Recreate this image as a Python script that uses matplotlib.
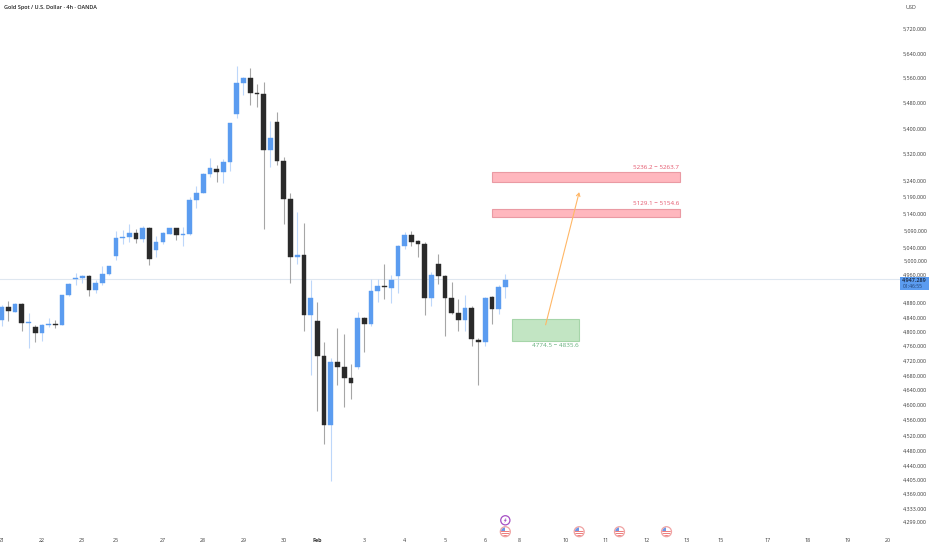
#!/usr/bin/env python3
"""Gold Spot / U.S. Dollar 4h candles with supply and demand zones."""

import matplotlib
matplotlib.use("Agg")
import matplotlib.pyplot as plt
from matplotlib.patches import Circle, FancyArrowPatch, Polygon, Rectangle
from matplotlib.ticker import NullLocator

plt.rcParams['font.family'] = ['Open Sans', 'DejaVu Sans']

# candle values, one entry per 4h bar
opens = [4833, 4869, 4856, 4878, 4824, 4813, 4795, 4818, 4821, 4819,
         4902, 4950, 4951, 4958, 4916, 4937, 4963, 5014, 5069, 5071,
         5083, 5065, 5098, 5033, 5056, 5080, 5097, 5075, 5080, 5179,
         5203, 5260, 5275, 5264, 5296, 5445, 5543, 5561, 5512, 5509,
         5333, 5419, 5299, 5183, 5011, 5018, 4847, 4831, 4734, 4546,
         4717, 4703, 4672, 4702, 4839, 4822, 4914, 4930, 4924, 4958,
         5045, 5077, 5058, 5051, 4895, 4992, 4957, 4895, 4853, 4832,
         4867, 4776, 4772, 4896, 4864, 4926]
highs = [4876, 4885, 4879, 4879, 4852, 4819, 4820, 4838, 4833, 4904,
         4938, 4965, 4960, 4959, 4946, 4987, 4987, 5087, 5091, 5109,
         5094, 5104, 5101, 5074, 5084, 5098, 5098, 5101, 5189, 5223,
         5261, 5309, 5287, 5306, 5418, 5600, 5562, 5593, 5541, 5547,
         5424, 5450, 5310, 5203, 5144, 5111, 4946, 4882, 4772, 4727,
         4810, 4794, 4712, 4855, 4840, 4948, 4948, 4992, 4960, 5046,
         5086, 5089, 5062, 5055, 4968, 5021, 4959, 4940, 4892, 4904,
         4873, 4783, 4896, 4901, 4932, 4963]
lows = [4817, 4831, 4855, 4801, 4755, 4770, 4773, 4813, 4810, 4818,
        4901, 4931, 4937, 4899, 4910, 4932, 4961, 5002, 5050, 5057,
        5052, 5057, 4990, 5012, 5050, 5079, 5062, 5045, 5077, 5156,
        5201, 5251, 5236, 5233, 5267, 5432, 5504, 5474, 5468, 5095,
        5282, 5287, 5109, 4938, 4992, 4801, 4680, 4585, 4497, 4403,
        4655, 4595, 4617, 4696, 4743, 4815, 4882, 4892, 4879, 4908,
        5035, 5043, 5012, 4847, 4873, 4935, 4787, 4850, 4801, 4801,
        4759, 4655, 4759, 4822, 4850, 4894]
closes = [4869, 4858, 4878, 4824, 4828, 4795, 4819, 4822, 4819, 4903,
          4934, 4952, 4958, 4916, 4937, 4963, 4986, 5069, 5072, 5083,
          5065, 5098, 5006, 5057, 5082, 5097, 5075, 5080, 5179, 5203,
          5260, 5276, 5264, 5296, 5417, 5544, 5561, 5512, 5509, 5334,
          5369, 5299, 5183, 5011, 5018, 4847, 4895, 4734, 4546, 4717,
          4703, 4672, 4658, 4838, 4822, 4914, 4930, 4925, 4945, 5045,
          5076, 5056, 5051, 4895, 4960, 4957, 4895, 4853, 4832, 4867,
          4779, 4772, 4895, 4864, 4926, 4947]

last_price = 4947.289

# axis ticks (the 4,920 label sits hidden behind the price tag)
price_ticks = [5720, 5640, 5560, 5480, 5400, 5320, 5240, 5190, 5140, 5090,
               5040, 5000, 4960, 4880, 4840, 4800, 4760, 4720, 4680,
               4640, 4600, 4560, 4520, 4480, 4440, 4405, 4369, 4333, 4299]
date_ticks = [0, 6, 12, 17, 24, 30, 36, 42, 47, 54, 60, 66, 72, 77, 84, 90,
              96, 102, 107, 114, 120, 126, 132]
date_labels = ['21', '22', '23', '25', '27', '28', '29', '30', 'Feb', '3',
               '4', '5', '6', '8', '10', '11', '12', '13', '15', '17', '18',
               '19', '20']

# drawn zones: first bar, last bar, low, high
red_zone_bars = [73, 101]
red_zone_lows = [5236.2, 5129.1]
red_zone_highs = [5263.7, 5154.6]
green_zone_bars = [76, 86]
green_zone_low = 4774.5
green_zone_high = 4835.6

arrow_bars = [81, 86]
arrow_prices = [4819, 5204]

# economic calendar markers
flag_bars = [75, 86, 92, 99]
bolt_bar = 75

BLUE = '#5b9cf0'
BLACK = '#2a2a2a'
BLUE_WICK = '#bdd7fa'
BLACK_WICK = '#a6a6a6'
TEXT = '#3a3a3a'
LABEL_SIZE = 3.9
ZONE_LABEL_SIZE = 4.5

fig = plt.figure(figsize=(9.32, 5.5), dpi=100, facecolor='white')
ax = fig.add_axes([0, 0, 1, 1])
ax.set_yscale('log')
ax.set_xlim(-0.253, 138.54)
ax.set_ylim(4229.5, 5817)

for name in ['top', 'bottom', 'left', 'right']:
    ax.spines[name].set_visible(False)

# last price line stops at the price scale
bar_at_scale = 133.7
ax.plot([ax.get_xlim()[0], bar_at_scale], [last_price, last_price],
        color='#dfe7f0', lw=0.8, zorder=1)

# candles
for i in range(len(opens)):
    up = closes[i] >= opens[i]
    ax.vlines(i, lows[i], highs[i], color=BLUE_WICK if up else BLACK_WICK,
              lw=0.8, zorder=2)
    ax.bar(i, abs(closes[i] - opens[i]), bottom=min(opens[i], closes[i]),
           width=0.7, color=BLUE if up else BLACK,
           edgecolor=BLUE if up else BLACK, linewidth=0.3, zorder=3)

# resistance zones
for low, high in zip(red_zone_lows, red_zone_highs):
    ax.add_patch(Rectangle((red_zone_bars[0], low),
                           red_zone_bars[1] - red_zone_bars[0], high - low,
                           facecolor='#ffb7be', edgecolor='#ea9aa3', lw=0.8,
                           zorder=4))
    ax.annotate(f'{low:.1f} − {high:.1f}', (red_zone_bars[1], high),
                xytext=(-0.5, 1.6), textcoords='offset points', ha='right',
                va='bottom', fontsize=ZONE_LABEL_SIZE, color='#e4566c')

# demand zone
ax.add_patch(Rectangle((green_zone_bars[0], green_zone_low),
                       green_zone_bars[1] - green_zone_bars[0],
                       green_zone_high - green_zone_low,
                       facecolor='#c2e5c3', edgecolor='#a6d5a9', lw=0.8,
                       zorder=4))
ax.annotate(f'{green_zone_low:.1f} − {green_zone_high:.1f}',
            (green_zone_bars[1], green_zone_low),
            xytext=(-0.5, -1.6), textcoords='offset points', ha='right',
            va='top', fontsize=ZONE_LABEL_SIZE, color='#62ad78')

ax.add_patch(FancyArrowPatch((arrow_bars[0], arrow_prices[0]),
                             (arrow_bars[1], arrow_prices[1]),
                             arrowstyle='->,head_length=2.2,head_width=1.3',
                             color='#ffb766', lw=0.8, shrinkA=0, shrinkB=0,
                             zorder=5))

# price and time scales
ax.yaxis.tick_right()
ax.yaxis.set_minor_locator(NullLocator())
ax.set_yticks(price_ticks)
ax.set_yticklabels([f'{p:,.3f}' for p in price_ticks], ha='right')
ax.tick_params(axis='y', length=0, pad=-3.6, labelsize=LABEL_SIZE,
               labelcolor=TEXT)
ax.set_xticks(date_ticks)
ax.set_xticklabels(date_labels, va='center')
ax.tick_params(axis='x', length=0, pad=-6.5, labelsize=LABEL_SIZE,
               labelcolor=TEXT)
for tick, label in zip(ax.get_xticklabels(), date_labels):
    if label == 'Feb':
        tick.set_fontweight('bold')

# overlay in figure pixels for the header, price tag and calendar icons
ui = fig.add_axes([0, 0, 1, 1], facecolor='none')
ui.set_xlim(0, 932)
ui.set_ylim(550, 0)
ui.axis('off')

ui.text(3.5, 7.5, 'Gold Spot / U.S. Dollar · 4h · OANDA', fontsize=4.0,
        fontweight='semibold', color='#222222', va='center')
ui.text(905, 7.7, 'USD', fontsize=LABEL_SIZE, color=TEXT, va='center')

ui.add_patch(Rectangle((900, 276.5), 29, 13.5, facecolor=BLUE, edgecolor='none'))
ui.text(927, 280.3, f'{last_price:,.3f}', fontsize=LABEL_SIZE, color='#16233a',
        ha='right', va='center', fontweight='semibold')
ui.text(923, 286.4, '01:46:55', fontsize=3.6, color='#22406e', ha='right',
        va='center')


def bar_px(bar):
    return 1.7 + 6.715 * bar


def draw_flag(cx, cy):
    # small US flag badge
    edge = Circle((cx, cy), 5, facecolor='white', edgecolor='#f0a3a3', lw=0.9,
                  zorder=6)
    ui.add_patch(edge)
    clip = Circle((cx, cy), 4.3, transform=ui.transData)
    for k in range(3):
        stripe = Rectangle((cx - 5, cy - 0.6 + k * 1.9), 10, 0.9,
                           facecolor='#ee7f7f', edgecolor='none', zorder=7)
        ui.add_patch(stripe)
        stripe.set_clip_path(clip)
    canton = Rectangle((cx - 5, cy - 5), 5, 4.6, facecolor='#6f97e6',
                       edgecolor='none', zorder=8)
    ui.add_patch(canton)
    canton.set_clip_path(clip)


def draw_bolt(cx, cy):
    ui.add_patch(Circle((cx, cy), 4.6, facecolor='white', edgecolor='#a64fc4',
                        lw=0.9, zorder=6))
    ui.add_patch(Polygon([(cx + 1.1, cy - 2.8), (cx - 1.6, cy + 0.5),
                          (cx - 0.2, cy + 0.5), (cx - 1.1, cy + 2.8),
                          (cx + 1.6, cy - 0.5), (cx + 0.2, cy - 0.5)],
                         facecolor='#a64fc4', edgecolor='none', zorder=7))


for bar in flag_bars:
    draw_flag(bar_px(bar), 531.7)
draw_bolt(bar_px(bolt_bar), 520.3)

plt.savefig('out.png', dpi=100, facecolor='white')
plt.close()
